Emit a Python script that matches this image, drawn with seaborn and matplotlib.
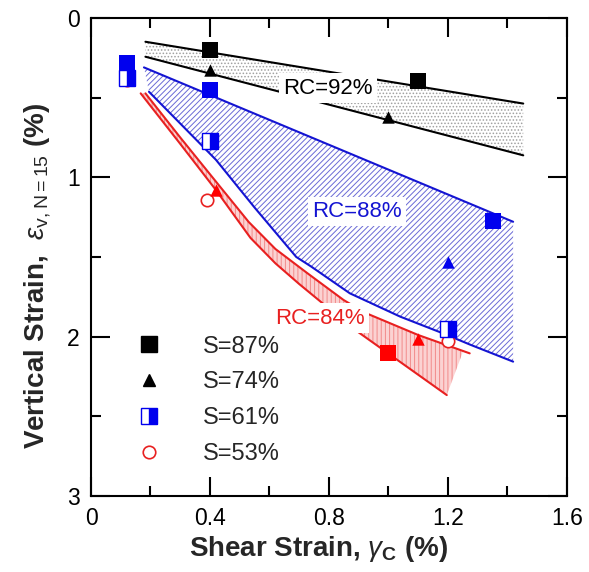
import numpy as np
import pandas as pd
import matplotlib
matplotlib.use("Agg")
import matplotlib.pyplot as plt
import seaborn as sns
from matplotlib.lines import Line2D
from matplotlib.ticker import MultipleLocator

# ---------------- data ----------------
# RC = 92 % (black) band boundaries
rc92_x = [0.183, 1.453]
rc92_upper_y = [0.149, 0.537]
rc92_lower_y = [0.243, 0.862]

# RC = 88 % (blue) band boundaries
rc88_upper_x = [0.178, 1.419]
rc88_upper_y = [0.31, 1.279]
rc88_lower_x = [0.195, 0.42, 0.55, 0.69, 0.74, 0.87, 1.04, 1.184, 1.274, 1.419]
rc88_lower_y = [0.463, 0.89, 1.19, 1.50, 1.56, 1.728, 1.875, 1.98, 2.05, 2.157]

# RC = 84 % (red) band boundaries
rc84_upper_x = [0.183, 0.30, 0.43, 0.53, 0.62, 0.726, 0.849, 0.921, 1.10, 1.273]
rc84_upper_y = [0.473, 0.75, 1.05, 1.28, 1.45, 1.60, 1.77, 1.85, 1.99, 2.105]
rc84_lower_x = [0.167, 0.30, 0.42, 0.536, 0.62, 0.70, 0.882, 1.196]
rc84_lower_y = [0.473, 0.79, 1.08, 1.38, 1.54, 1.67, 1.95, 2.367]
rc84_fill_right_x = 1.251

# measured points
rc92_sq_x, rc92_sq_y = [0.40, 1.10], [0.20, 0.395]
rc92_tri_x, rc92_tri_y = [0.40, 1.00], [0.325, 0.62]
rc88_sq_x, rc88_sq_y = [0.12, 0.40, 1.35], [0.285, 0.45, 1.275]
rc88_tri_x, rc88_tri_y = [1.20], [1.53]
rc88_half_x, rc88_half_y = [0.12, 0.40, 1.20], [0.375, 0.775, 1.955]
rc84_sq_x, rc84_sq_y = [1.00], [2.105]
rc84_tri_x, rc84_tri_y = [0.42, 1.10], [1.08, 2.015]
rc84_circ_x, rc84_circ_y = [0.12, 0.39, 1.20], [0.39, 1.145, 2.03]

band_labels = ["RC=92%", "RC=88%", "RC=84%"]
band_label_x = [0.796, 0.894, 0.771]
band_label_y = [0.44, 1.216, 1.884]

legend_labels = ["S=87%", "S=74%", "S=61%", "S=53%"]

x_ticks = [0, 0.4, 0.8, 1.2, 1.6]
x_tick_labels = ["0", "0.4", "0.8", "1.2", "1.6"]
y_ticks = [0, 1, 2, 3]
y_tick_labels = ["0", "1", "2", "3"]

# ---------------- style ----------------
sns.set_theme(style="ticks")
plt.rcParams["font.family"] = ["Liberation Sans", "DejaVu Sans"]
plt.rcParams["mathtext.fontset"] = "custom"
plt.rcParams["mathtext.rm"] = "Liberation Sans"
plt.rcParams["mathtext.it"] = "Liberation Sans:italic"
plt.rcParams["mathtext.bf"] = "Liberation Sans:bold"
plt.rcParams["hatch.linewidth"] = 0.7

BLACK = "#000000"
BLUE = "#1414d2"
RED = "#e82020"

fig, ax = plt.subplots(figsize=(5.89, 5.72), dpi=100)
fig.subplots_adjust(left=0.1545, right=0.9626, bottom=0.133, top=0.9685)
ax.set_facecolor("white")

# ---------------- bands ----------------
ax.fill_between(rc92_x, rc92_upper_y, rc92_lower_y, facecolor="white",
                edgecolor="#a0a0a0", hatch=".....", linewidth=0, zorder=1)

poly88_x = list(rc88_upper_x) + list(rc88_lower_x[::-1])
poly88_y = list(rc88_upper_y) + list(rc88_lower_y[::-1])
ax.fill(poly88_x, poly88_y, facecolor="white", edgecolor="#6a6ad6",
        hatch="//////", linewidth=0, zorder=1)

up_x = np.array(rc84_upper_x)
up_y = np.array(rc84_upper_y)
keep = up_x < rc84_fill_right_x
edge_y = np.interp(rc84_fill_right_x, up_x, up_y)
poly84_x = list(up_x[keep]) + [rc84_fill_right_x] + list(rc84_lower_x[::-1])
poly84_y = list(up_y[keep]) + [edge_y] + list(rc84_lower_y[::-1])
ax.fill(poly84_x, poly84_y, facecolor="#fbd2d2", edgecolor="#f28a8a",
        hatch="||||", linewidth=0, zorder=1)

# boundary lines
for xs, ys, c in [(rc92_x, rc92_upper_y, BLACK), (rc92_x, rc92_lower_y, BLACK),
                  (rc88_upper_x, rc88_upper_y, BLUE), (rc88_lower_x, rc88_lower_y, BLUE),
                  (rc84_upper_x, rc84_upper_y, RED), (rc84_lower_x, rc84_lower_y, RED)]:
    sns.lineplot(x=xs, y=ys, sort=False, estimator=None, color=c, lw=1.5,
                 ax=ax, zorder=2)

# band labels
for txt, tx, ty, c in zip(band_labels, band_label_x, band_label_y, [BLACK, BLUE, RED]):
    ax.text(tx, ty, txt, color=c, fontsize=16, ha="center", va="center", zorder=3,
            bbox=dict(facecolor="white", edgecolor="none", pad=3))

# ---------------- markers ----------------
sq_s, tri_s, circ_s = 130, 80, 80
sns.scatterplot(x=rc84_circ_x, y=rc84_circ_y, marker="o", s=circ_s, facecolor="white",
                edgecolor=RED, linewidth=1.2, ax=ax, zorder=4)
ax.plot(rc88_half_x, rc88_half_y, ls="none", marker="s", ms=11, fillstyle="right",
        markerfacecolor="#0000ee", markerfacecoloralt="white", markeredgecolor="#0000ee",
        markeredgewidth=1.0, zorder=5)
for xs, ys, m, s, c in [(rc92_sq_x, rc92_sq_y, "s", sq_s, BLACK),
                        (rc92_tri_x, rc92_tri_y, "^", tri_s, BLACK),
                        (rc88_sq_x, rc88_sq_y, "s", sq_s, "#0000ee"),
                        (rc88_tri_x, rc88_tri_y, "^", tri_s, "#0000ee"),
                        (rc84_sq_x, rc84_sq_y, "s", sq_s, "#ff0000"),
                        (rc84_tri_x, rc84_tri_y, "^", tri_s, "#ff0000")]:
    sns.scatterplot(x=xs, y=ys, marker=m, s=s, color=c, edgecolor=c, linewidth=0,
                    ax=ax, zorder=6)

# ---------------- legend ----------------
handles = [
    Line2D([], [], ls="none", marker="s", ms=11, color=BLACK),
    Line2D([], [], ls="none", marker="^", ms=9, color=BLACK),
    Line2D([], [], ls="none", marker="s", ms=11, fillstyle="right",
           markerfacecolor="#0000ee", markerfacecoloralt="white",
           markeredgecolor="#0000ee", markeredgewidth=1.0),
    Line2D([], [], ls="none", marker="o", ms=9, markerfacecolor="white",
           markeredgecolor=RED, markeredgewidth=1.2),
]
ax.legend(handles, legend_labels, loc="upper left", bbox_to_anchor=(0.077, 0.355),
          frameon=False, fontsize=17, handlelength=1.0, handletextpad=1.78,
          labelspacing=0.58, borderpad=0.4, borderaxespad=0)

# ---------------- axes ----------------
ax.set_xlim(0, 1.6)
ax.set_ylim(3, 0)
ax.set_xticks(x_ticks)
ax.set_xticklabels(x_tick_labels)
ax.set_yticks(y_ticks)
ax.set_yticklabels(y_tick_labels)
ax.xaxis.set_minor_locator(MultipleLocator(0.2))
ax.yaxis.set_minor_locator(MultipleLocator(0.5))
ax.tick_params(which="both", direction="in", top=True, right=True, colors="black",
               labelsize=16.5, width=1.5)
ax.tick_params(which="major", length=13.5, pad=8)
ax.tick_params(which="minor", length=7)
for sp in ax.spines.values():
    sp.set_linewidth(1.5)
    sp.set_color("black")
    sp.set_visible(True)
ax.grid(False)

ax.set_xlabel(r"Shear Strain, $\gamma_{\mathbf{C}}$ (%)", fontsize=20,
              fontweight="bold", labelpad=3)
ax.set_ylabel(r"Vertical Strain,  $\varepsilon_{\mathrm{v,N=15}}$ (%)", fontsize=20,
              fontweight="bold", labelpad=10)
ax.xaxis.label.set_x(0.477)
ax.yaxis.label.set_y(0.46)

fig.savefig("out.png", dpi=100)
